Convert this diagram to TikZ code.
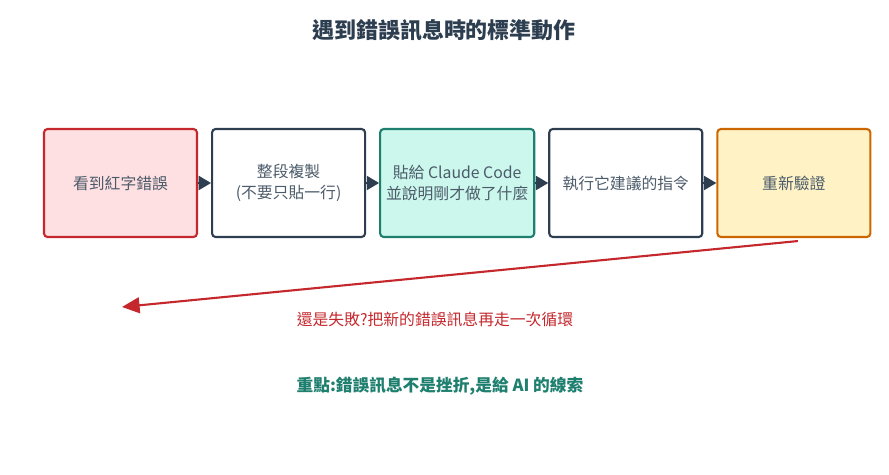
\documentclass[tikz,border=0pt]{standalone}
\usepackage{fontspec}
\setmainfont{Noto Sans CJK TC}
\usetikzlibrary{positioning, arrows.meta}
\definecolor{ink}{HTML}{2D3E50}
\definecolor{alarm}{HTML}{C4282D}
\definecolor{hint}{HTML}{1E7F6E}
\tikzset{
    stage/.style={draw=ink, line width=1.2pt, rounded corners=2pt, minimum width=3.06cm,
        minimum height=2.16cm, align=center, font=\fontsize{9}{12}\selectfont, text=ink!85}, % every box in the row
    flow/.style={-{Triangle[length=7pt, width=8pt]}, ink, line width=1pt}, % small dark heads between boxes
    node distance=0.26cm, % gap between two boxes
}
\begin{document}
\begin{tikzpicture}[x=0.02cm, y=-0.02cm]
    \useasboundingbox (0,0) rectangle (889,474);
    \node[font=\bfseries\fontsize{12.5}{14}\selectfont, text=ink] (title) at (444,30) {遇到錯誤訊息時的標準動作};
    \node[stage, draw=alarm, fill={rgb,255:red,255;green,224;blue,226}] (see) at (120.5,183) {看到紅字錯誤};
    \node[stage, right=of see] (copy) {整段複製\\(不要只貼一行)};
    \node[stage, right=of copy, draw=hint, fill={rgb,255:red,204;green,247;blue,236}] (paste) {貼給 Claude Code\\並說明剛才做了什麼};
    \node[stage, right=of paste] (run) {執行它建議的指令};
    \node[stage, right=of run, draw=orange!80!black, fill={rgb,255:red,255;green,243;blue,198}] (check) {重新驗證};
    \draw[flow] (see) -- (copy);
    \draw[flow] (copy) -- (paste);
    \draw[flow] (paste) -- (run);
    \draw[flow] (run) -- (check);
    \coordinate (back) at (122,307);
    \draw[-{Triangle[length=10pt, width=9pt]}, alarm, line width=1.2pt] ([xshift=0.08cm,yshift=-0.06cm]check.south) -- (back);
    \node[text=alarm, font=\fontsize{9}{11}\selectfont] (again) at (435,319) {還是失敗?把新的錯誤訊息再走一次循環};
    \node[text=hint, font=\bfseries\fontsize{9.5}{11}\selectfont] (note) at (440,386) {重點:錯誤訊息不是挫折,是給 AI 的線索};
\end{tikzpicture}
\end{document}
